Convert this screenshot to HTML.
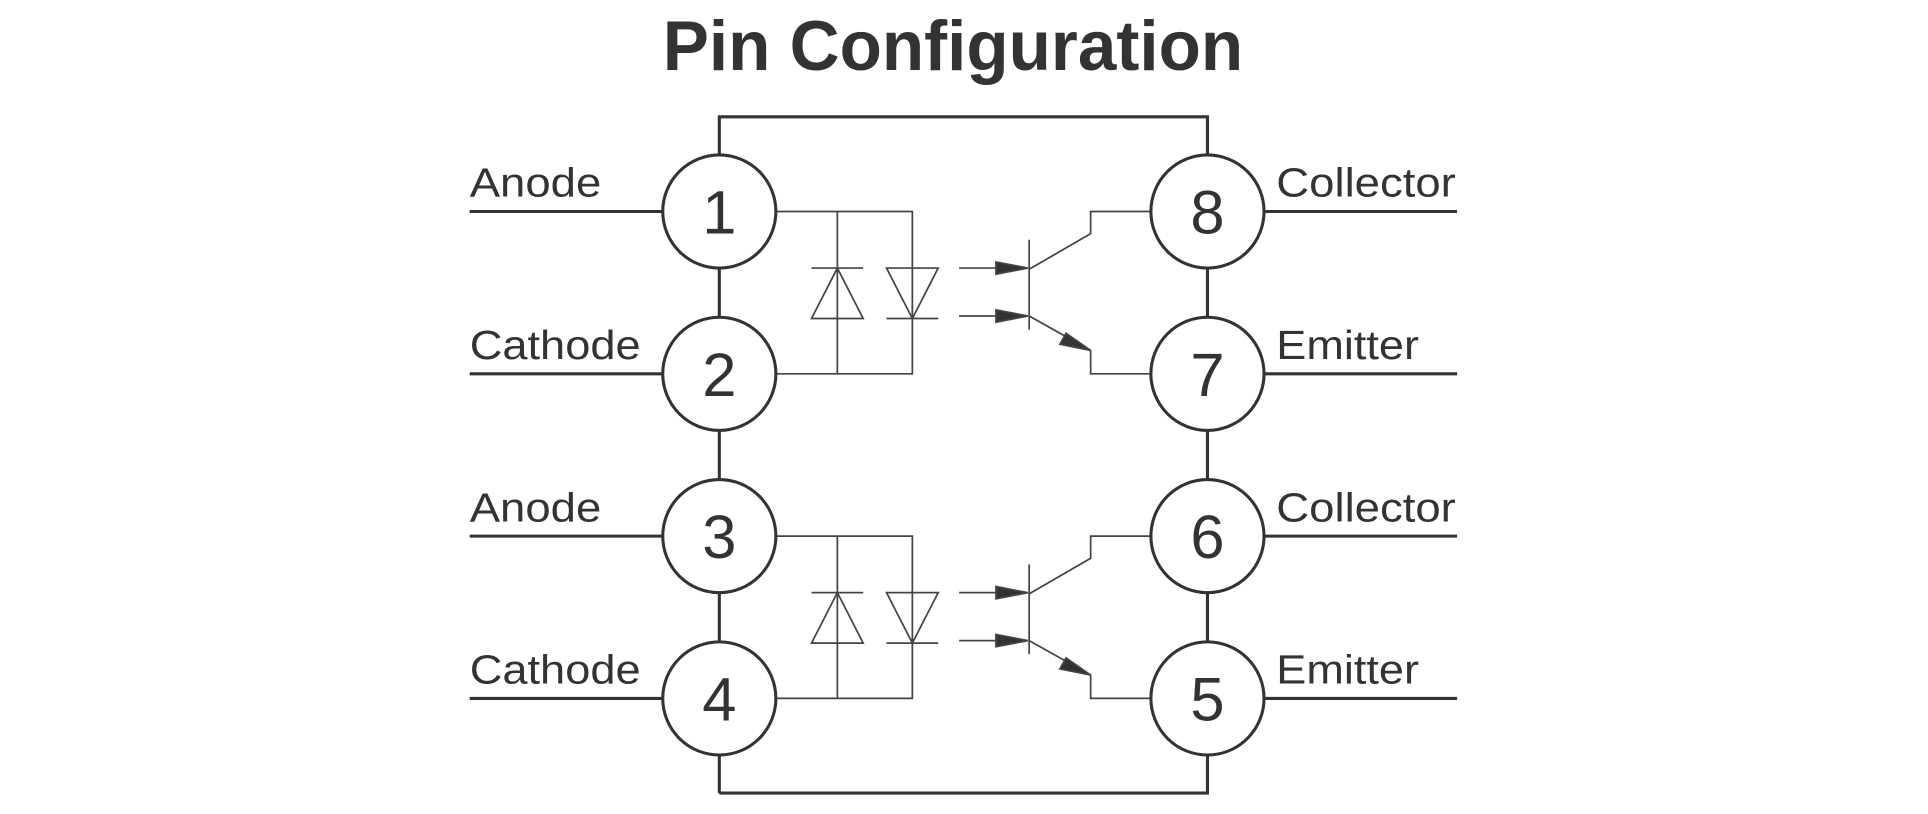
<!DOCTYPE html>
<html><head><meta charset="utf-8"><style>
html,body{margin:0;padding:0;background:#fff;}
svg{display:block;}
text{font-family:"Liberation Sans",Arial,sans-serif;fill:#333;}
</style></head><body>
<svg width="1928" height="814" viewBox="0 0 1568 662" xmlns="http://www.w3.org/2000/svg">
<defs>
<g id="opto" fill="none" stroke="#444" stroke-width="1.4">
  <polyline points="631,172 742,172 742,304 631,304"/>
  <line x1="681" y1="172" x2="681" y2="304"/>
  <line x1="660" y1="218" x2="702" y2="218"/>
  <polygon points="681,218 660,259 702,259"/>
  <polygon points="721,218 763,218 742,259"/>
  <line x1="721" y1="259" x2="763" y2="259"/>
  <line x1="780" y1="218" x2="812" y2="218"/>
  <line x1="780" y1="257" x2="812" y2="257"/>
  <polygon points="810,213 836,218 810,223" fill="#333"/>
  <polygon points="810,252 836,257 810,262" fill="#333"/>
  <line x1="837" y1="195" x2="837" y2="268"/>
  <polyline points="837,219 887,190 887,172 936,172"/>
  <polyline points="837,257 887,285 887,304 936,304"/>
  <polygon points="887,285 862,280 867,271" fill="#333"/>
</g>
</defs>
<text x="775" y="57" font-size="57" font-weight="bold" text-anchor="middle" textLength="472" lengthAdjust="spacingAndGlyphs">Pin Configuration</text>
<g fill="none" stroke="#333" stroke-width="2.5">
  <polyline points="585,645 585,95 982,95 982,645 585,645"/>
  <line x1="382" y1="172" x2="539" y2="172"/>
  <line x1="382" y1="304" x2="539" y2="304"/>
  <line x1="382" y1="436" x2="539" y2="436"/>
  <line x1="382" y1="568" x2="539" y2="568"/>
  <line x1="1028" y1="172" x2="1185" y2="172"/>
  <line x1="1028" y1="304" x2="1185" y2="304"/>
  <line x1="1028" y1="436" x2="1185" y2="436"/>
  <line x1="1028" y1="568" x2="1185" y2="568"/>
</g>
<use href="#opto"/>
<use href="#opto" transform="translate(0,264)"/>
<g fill="#fff" stroke="#333" stroke-width="2.5">
  <circle cx="585" cy="172" r="46"/><circle cx="585" cy="304" r="46"/>
  <circle cx="585" cy="436" r="46"/><circle cx="585" cy="568" r="46"/>
  <circle cx="982" cy="172" r="46"/><circle cx="982" cy="304" r="46"/>
  <circle cx="982" cy="436" r="46"/><circle cx="982" cy="568" r="46"/>
</g>
<g font-size="50" text-anchor="middle">
  <text x="585" y="190">1</text><text x="585" y="322">2</text>
  <text x="585" y="454">3</text><text x="585" y="586">4</text>
  <text x="982" y="190">8</text><text x="982" y="322">7</text>
  <text x="982" y="454">6</text><text x="982" y="586">5</text>
</g>
<g font-size="33">
  <text x="382" y="160" textLength="107" lengthAdjust="spacingAndGlyphs">Anode</text>
  <text x="382" y="292" textLength="139" lengthAdjust="spacingAndGlyphs">Cathode</text>
  <text x="382" y="424" textLength="107" lengthAdjust="spacingAndGlyphs">Anode</text>
  <text x="382" y="556" textLength="139" lengthAdjust="spacingAndGlyphs">Cathode</text>
  <text x="1038" y="160" textLength="146" lengthAdjust="spacingAndGlyphs">Collector</text>
  <text x="1038" y="292" textLength="116" lengthAdjust="spacingAndGlyphs">Emitter</text>
  <text x="1038" y="424" textLength="146" lengthAdjust="spacingAndGlyphs">Collector</text>
  <text x="1038" y="556" textLength="116" lengthAdjust="spacingAndGlyphs">Emitter</text>
</g>
</svg>
</body></html>
